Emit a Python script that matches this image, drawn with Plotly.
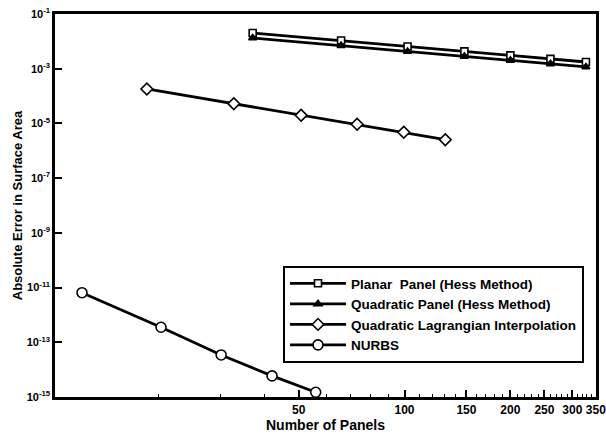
import plotly.graph_objects as go

# Data (log-log)
planar_n = [37, 66, 102, 148, 200, 260, 328]
planar_err = [2.02e-2, 1.07e-2, 6.5e-3, 4.3e-3, 3.07e-3, 2.29e-3, 1.76e-3]

quadpanel_n = [37, 66, 102, 148, 200, 260, 328]
quadpanel_err = [1.33e-2, 7.0e-3, 4.26e-3, 2.82e-3, 2.01e-3, 1.5e-3, 1.16e-3]

lagr_n = [18.5, 32.7, 50.8, 73.3, 99.5, 130.6]
lagr_err = [1.82e-4, 5.27e-5, 1.98e-5, 9.3e-6, 4.74e-6, 2.55e-6]

nurbs_n = [12.1, 20.3, 30.1, 42, 55.9]
nurbs_err = [6.5e-12, 3.54e-13, 3.44e-14, 5.9e-15, 1.49e-15]

x_ticks = [50, 100, 150, 200, 250, 300, 350]
x_minor = [v for v in range(20, 350, 10) if v not in x_ticks]
y_exps = [-1, -3, -5, -7, -9, -11, -13, -15]

FONT = "Liberation Sans, Arial, sans-serif"

fig = go.Figure()

def add(name, xs, ys, symbol, size, fill):
    fig.add_trace(go.Scatter(
        x=xs, y=ys, name=name, mode="lines+markers",
        line=dict(color="black", width=2.8),
        marker=dict(symbol=symbol, size=size,
                    color="black" if fill else "white",
                    line=dict(color="black", width=1.6)),
    ))

add("Planar  Panel (Hess Method)", planar_n, planar_err, "square", 7, False)
add("Quadratic Panel (Hess Method)", quadpanel_n, quadpanel_err, "triangle-up", 7, True)
add("Quadratic Lagrangian Interpolation", lagr_n, lagr_err, "diamond", 9, False)
add("NURBS", nurbs_n, nurbs_err, "circle", 10, False)

fig.update_layout(
    width=606, height=440,
    margin=dict(l=55, r=10, t=14, b=43),
    paper_bgcolor="white", plot_bgcolor="white",
    font=dict(family=FONT, color="black", size=11),
    legend=dict(
        x=(283 - 55) / 541, y=(397 - 266) / 383, xanchor="left", yanchor="top",
        bordercolor="black", borderwidth=2, bgcolor="white",
        font=dict(family=FONT, size=13.5, color="black", weight="bold"),
        tracegroupgap=0, itemwidth=56,
    ),
)

fig.update_xaxes(
    type="log", range=[1.006, 2.5445], automargin=False,
    tickvals=x_ticks, ticktext=[str(v) for v in x_ticks],
    ticklabeloverflow="allow",
    ticks="inside", ticklen=7, tickwidth=2, tickcolor="black",
    minor=dict(tickvals=x_minor, ticks="inside", ticklen=3, tickwidth=1.2, tickcolor="black"),
    showline=True, linewidth=2.5, linecolor="black", mirror=True,
    showgrid=False, zeroline=False,
    tickfont=dict(family=FONT, size=12, color="black", weight="bold"),
    title=dict(text="Number of Panels", font=dict(family=FONT, size=14, color="black", weight="bold"), standoff=0),
)

fig.update_yaxes(
    type="log", range=[-15, -1], automargin=False,
    tickvals=[10.0 ** e for e in y_exps],
    ticktext=["10<sup>%d</sup>" % e for e in y_exps],
    ticklabeloverflow="allow",
    ticks="inside", ticklen=7, tickwidth=2, tickcolor="black",
    showline=True, linewidth=2.5, linecolor="black", mirror=True,
    showgrid=False, zeroline=False,
    tickfont=dict(family=FONT, size=11, color="black", weight="bold"),
    title=dict(text="Absolute Error in Surface Area", font=dict(family=FONT, size=13, color="black", weight="bold"), standoff=2),
)

# remove the browser's default 8px body margin so the figure fills the window
fig.write_html(
    "out.html",
    config={"displayModeBar": False},
    post_script="document.body.style.margin='0';document.body.style.overflow='hidden';",
)
